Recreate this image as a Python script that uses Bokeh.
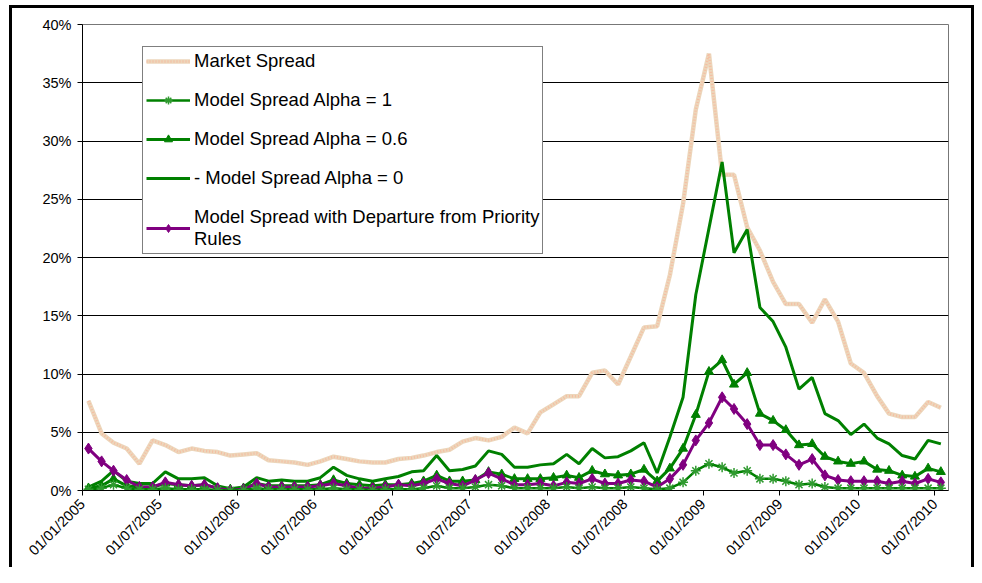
import math
import pandas as pd
from bokeh.plotting import figure
from bokeh.models import (ColumnDataSource, FixedTicker, DatetimeTickFormatter,
                          NumeralTickFormatter, Legend, LegendItem, Range1d)
from bokeh.embed import file_html
from bokeh.resources import INLINE

# ---- data (monthly observations, values in percent) ----
months = pd.date_range("2005-01-01", periods=67, freq="MS") + pd.Timedelta(days=14)

market_spread = [7.7, 4.9, 4.1, 3.6, 2.3, 4.3, 3.9, 3.3, 3.6, 3.4, 3.3, 3.0, 3.1, 3.2, 2.6, 2.5,
                 2.4, 2.2, 2.5, 2.9, 2.7, 2.5, 2.4, 2.4, 2.7, 2.8, 3.0, 3.3, 3.5, 4.2, 4.5, 4.3,
                 4.6, 5.4, 4.9, 6.7, 7.4, 8.1, 8.1, 10.1, 10.3, 9.1, 11.5, 14.0, 14.1, 18.5, 24.6,
                 32.7, 37.5, 27.1, 27.1, 22.6, 20.6, 17.9, 16.0, 16.0, 14.4, 16.4, 14.5, 10.9,
                 10.1, 8.1, 6.6, 6.3, 6.3, 7.6, 7.1]

alpha_1 = [0.1, 0.2, 0.5, 0.2, 0.1, 0.1, 0.2, 0.1, 0.1, 0.1, 0.05, 0.0, 0.05, 0.2, 0.1, 0.1,
           0.1, 0.1, 0.1, 0.2, 0.1, 0.1, 0.05, 0.1, 0.1, 0.1, 0.2, 0.4, 0.2, 0.2, 0.3, 0.5,
           0.4, 0.2, 0.2, 0.2, 0.2, 0.3, 0.2, 0.3, 0.2, 0.2, 0.3, 0.2, 0.1, 0.2, 0.7,
           1.7, 2.3, 2.0, 1.5, 1.7, 1.0, 1.0, 0.8, 0.5, 0.6, 0.3, 0.2, 0.2,
           0.2, 0.2, 0.2, 0.2, 0.2, 0.2, 0.2]

alpha_06 = [0.2, 0.4, 1.0, 0.4, 0.3, 0.3, 0.6, 0.5, 0.4, 0.5, 0.2, 0.1, 0.2, 0.6, 0.4, 0.4,
            0.4, 0.4, 0.5, 0.9, 0.6, 0.5, 0.4, 0.5, 0.5, 0.6, 0.8, 1.3, 0.8, 0.8, 0.9, 1.6,
            1.4, 1.0, 1.0, 1.0, 1.1, 1.3, 1.1, 1.7, 1.4, 1.3, 1.4, 1.8, 0.8, 1.9, 3.6,
            6.5, 10.2, 11.2, 9.1, 10.1, 6.6, 6.0, 5.2, 3.9, 4.0, 2.9, 2.5, 2.3,
            2.5, 1.8, 1.7, 1.3, 1.2, 1.9, 1.6]

alpha_0 = [0.3, 0.8, 1.7, 0.8, 0.6, 0.6, 1.6, 1.0, 1.0, 1.1, 0.4, 0.15, 0.3, 1.1, 0.8, 0.9,
           0.8, 0.8, 1.1, 2.0, 1.3, 1.0, 0.8, 1.0, 1.2, 1.6, 1.7, 3.0, 1.7, 1.8, 2.1, 3.4,
           3.1, 2.0, 2.0, 2.2, 2.3, 3.1, 2.3, 3.6, 2.8, 2.9, 3.4, 4.1, 1.5, 4.6, 8.0,
           16.8, 22.5, 28.2, 20.4, 22.4, 15.7, 14.5, 12.3, 8.7, 9.7, 6.6, 6.0, 4.8,
           5.7, 4.5, 4.0, 3.0, 2.7, 4.3, 4.0]

departure = [3.6, 2.5, 1.7, 0.9, 0.3, 0.3, 0.7, 0.5, 0.4, 0.5, 0.2, 0.0, 0.1, 0.6, 0.3, 0.3,
             0.3, 0.3, 0.4, 0.6, 0.4, 0.2, 0.2, 0.3, 0.5, 0.4, 0.6, 1.0, 0.6, 0.4, 0.9, 1.5,
             1.0, 0.5, 0.5, 0.6, 0.4, 0.7, 0.6, 1.0, 0.6, 0.6, 0.9, 0.8, 0.3, 1.0, 2.2,
             4.3, 5.8, 8.0, 7.0, 5.7, 3.9, 3.9, 3.1, 2.2, 2.7, 1.3, 0.9, 0.8,
             0.8, 0.8, 0.6, 0.8, 0.6, 1.0, 0.7]

tick_labels = ["01/01/2005", "01/07/2005", "01/01/2006", "01/07/2006", "01/01/2007",
               "01/07/2007", "01/01/2008", "01/07/2008", "01/01/2009", "01/07/2009",
               "01/01/2010", "01/07/2010"]
y_ticks = [0, 5, 10, 15, 20, 25, 30, 35, 40]

series_names = ["Market Spread", "Model Spread Alpha = 1", "Model Spread Alpha = 0.6",
                "- Model Spread Alpha = 0",
                "Model Spread with Departure from Priority\nRules"]

# ---- build ----
src = ColumnDataSource(dict(
    date=months,
    market=[v / 100 for v in market_spread],
    a1=[v / 100 for v in alpha_1],
    a06=[v / 100 for v in alpha_06],
    a0=[v / 100 for v in alpha_0],
    dep=[v / 100 for v in departure],
))

tick_dates = pd.to_datetime(tick_labels, format="%d/%m/%Y")

chart_border = ("linear-gradient(#000,#000) 9px 5px / 3px 700px no-repeat, "
                "linear-gradient(#000,#000) 9px 5px / 965px 3px no-repeat, "
                "linear-gradient(#000,#000) 971px 5px / 3px 700px no-repeat, #ffffff")

p = figure(width=974, height=567, x_axis_type="datetime",
           output_backend="svg", toolbar_location=None,
           x_range=Range1d(pd.Timestamp("2005-01-01"), pd.Timestamp("2010-08-02")),
           y_range=Range1d(0, 0.40),
           min_border_left=82, min_border_right=26, min_border_top=24, min_border_bottom=67,
           styles={"background": chart_border})

p.background_fill_color = "white"
p.border_fill_alpha = 0
p.outline_line_color = "#777777"
p.outline_line_width = 1

font = "Liberation Sans"

# axes
p.xaxis.ticker = FixedTicker(ticks=[t.timestamp() * 1000 for t in tick_dates])
p.xaxis.formatter = DatetimeTickFormatter(days="%d/%m/%Y", months="%d/%m/%Y",
                                          years="%d/%m/%Y")
p.xaxis.major_label_orientation = math.pi / 4
p.yaxis.ticker = FixedTicker(ticks=[v / 100 for v in y_ticks])
p.yaxis.formatter = NumeralTickFormatter(format="0%")
for ax in (p.xaxis, p.yaxis):
    ax.axis_line_color = "black"
    ax.axis_line_width = 1
    ax.major_tick_line_color = "black"
    ax.major_tick_out = 5
    ax.major_tick_in = 0
    ax.minor_tick_line_color = None
    ax.major_label_text_font = font
    ax.major_label_text_font_size = "14.5px"
    ax.major_label_text_color = "black"
p.yaxis.major_label_standoff = 6
p.xaxis.major_label_standoff = 6

p.xgrid.visible = False
p.ygrid.ticker = FixedTicker(ticks=[v / 100 for v in y_ticks])
p.ygrid.grid_line_color = "black"
p.ygrid.grid_line_width = 1

green = "#008000"
purple = "#800080"

m_base = p.line("date", "market", source=src, line_color="#ecd6bb", line_width=4.5)
m_dots = p.line("date", "market", source=src, line_color="#f8b99c", line_width=2.5,
                line_dash="1 2", line_alpha=0.85)

a0_line = p.line("date", "a0", source=src, line_color=green, line_width=3)

a06_line = p.line("date", "a06", source=src, line_color=green, line_width=3)
a06_mk = p.scatter("date", "a06", source=src, marker="triangle", size=9,
                   fill_color=green, line_color=green)

dep_line = p.line("date", "dep", source=src, line_color=purple, line_width=3)
dep_mk = p.scatter("date", "dep", source=src, marker="diamond", size=11,
                   fill_color=purple, line_color=purple)

a1_line = p.line("date", "a1", source=src, line_color=green, line_width=2.5)
a1_mk = p.scatter("date", "a1", source=src, marker="asterisk", size=10,
                  line_color="#2f9a2f", line_width=1.5)

legend = Legend(items=[
    LegendItem(label=series_names[0], renderers=[m_base, m_dots]),
    LegendItem(label=series_names[1], renderers=[a1_line, a1_mk]),
    LegendItem(label=series_names[2], renderers=[a06_line, a06_mk]),
    LegendItem(label=series_names[3], renderers=[a0_line]),
    LegendItem(label=series_names[4], renderers=[dep_line, dep_mk]),
], location=(60, 236))
legend.label_text_font = font
legend.label_text_font_size = "18.5px"
legend.label_text_color = "black"
legend.glyph_width = 44
legend.glyph_height = 20
legend.label_height = 20
legend.label_standoff = 4
legend.spacing = 17
legend.padding = 3
legend.margin = 0
legend.border_line_color = "black"
legend.border_line_width = 1
legend.background_fill_color = "white"
legend.background_fill_alpha = 1
p.add_layout(legend)

open("out.html", "w").write(file_html(p, INLINE))
